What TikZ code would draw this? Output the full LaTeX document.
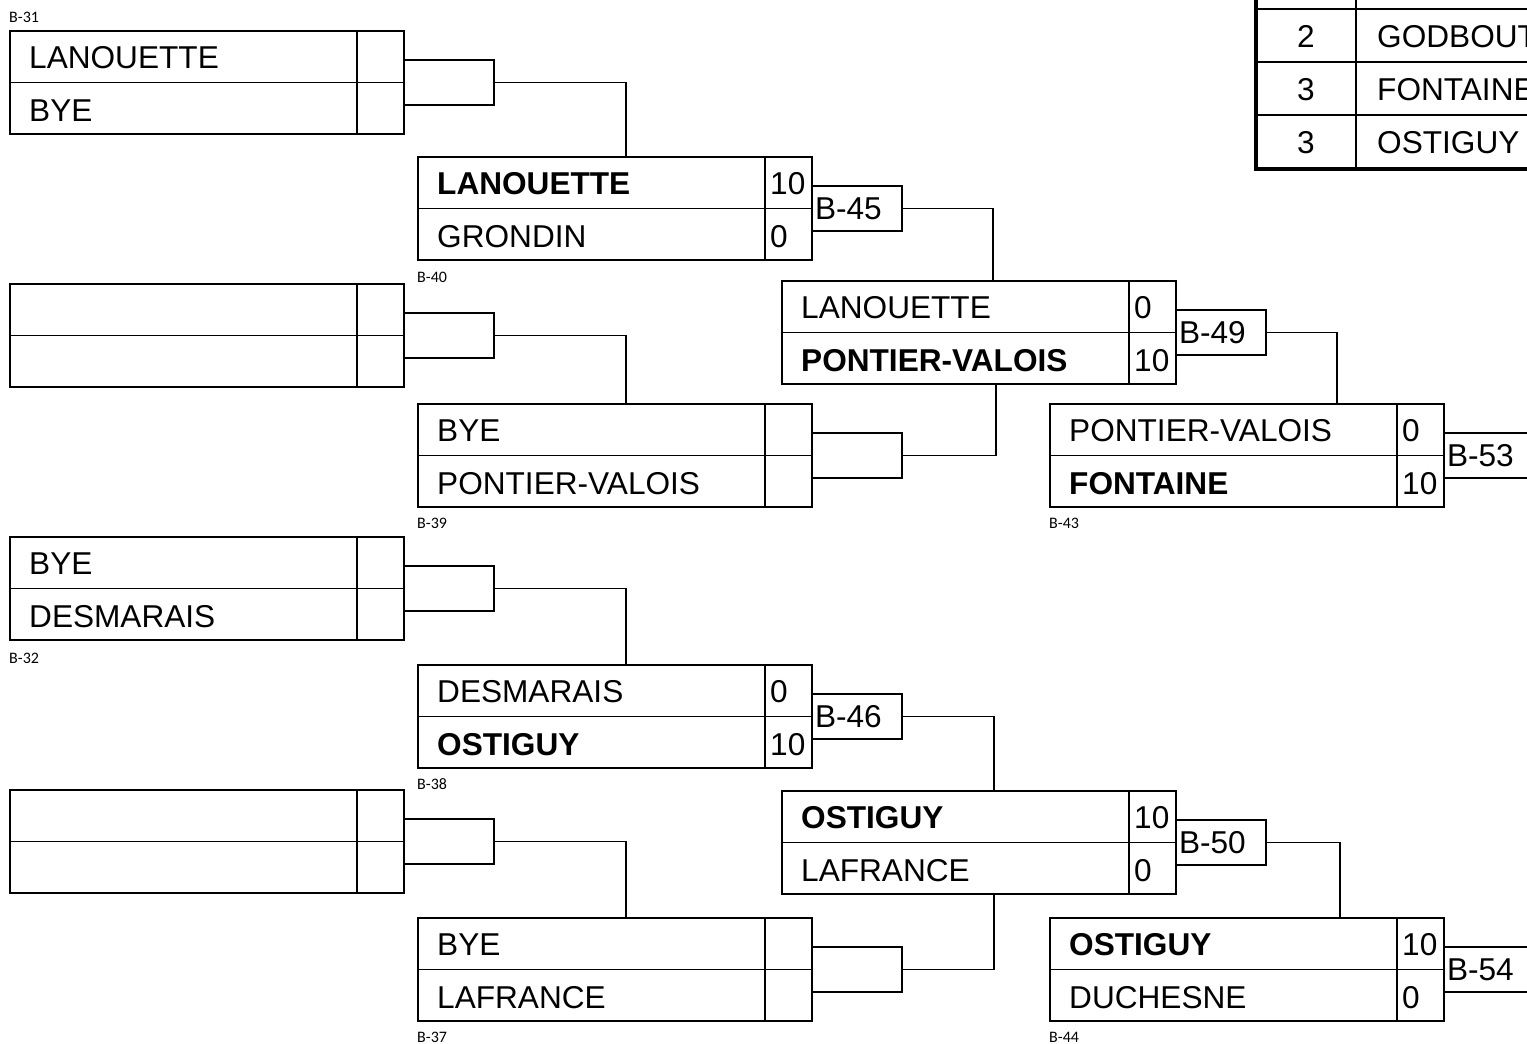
\documentclass[tikz,border=0pt]{standalone}
\usepackage{fontspec}
\setmainfont{Liberation Sans}
\newfontfamily\lblfont{Carlito}
\usetikzlibrary{calc}
\newcommand\matchbox[7]{%
  \node[mbox] (#1) at (#2,#3) {};
  \draw[bl] ([xshift=347pt]#1.north west) -- ([xshift=347pt]#1.south west);
  \draw[bl] (#1.west) -- (#1.east);
  \node[nm] (#1n1) at ([xshift=19pt,yshift=-37pt]#1.north west) {#4};
  \node[nm] (#1s1) at ([xshift=352pt,yshift=-37pt]#1.north west) {#5};
  \node[nm] (#1n2) at ([xshift=19pt,yshift=-90pt]#1.north west) {#6};
  \node[nm] (#1s2) at ([xshift=352pt,yshift=-90pt]#1.north west) {#7};
}
\begin{document}
\begin{tikzpicture}[x=1pt,y=-1pt,
  bl/.style={line width=1.8pt},
  mbox/.style={draw, line width=1.8pt, minimum width=394pt, minimum height=103pt, anchor=north west, inner sep=0pt, outer sep=0pt},
  nm/.style={anchor=base west, inner sep=0pt, font=\fontsize{31.6}{36}\selectfont},
  crect/.style={draw, line width=1.8pt, minimum height=45pt, text width=84pt, inner xsep=3pt, inner ysep=0pt, outer sep=0pt, align=left, anchor=west, font=\fontsize{31.6}{36}\selectfont},
  wire/.style={line width=1.8pt},
  lbl/.style={anchor=west, inner sep=0pt, font=\lblfont\fontsize{16}{18}\selectfont},
  tnum/.style={inner sep=0pt, anchor=base, font=\fontsize{31.6}{36}\selectfont},
  tname/.style={inner sep=0pt, anchor=base west, font=\fontsize{31.6}{36}\selectfont}
]
\clip (0,0) rectangle (1527,1044);
\fill[white] (0,0) rectangle (1527,1044);

% match boxes
\matchbox{L1}{10}{31}{LANOUETTE}{}{BYE}{}
\matchbox{L2}{10}{284}{}{}{}{}
\matchbox{L3}{10}{537}{BYE}{}{DESMARAIS}{}
\matchbox{L4}{10}{790}{}{}{}{}
\matchbox{B40}{418}{157}{\bfseries LANOUETTE}{10}{GRONDIN}{0}
\matchbox{B39}{418}{404}{BYE}{}{PONTIER-VALOIS}{}
\matchbox{B38}{418}{665}{DESMARAIS}{0}{\bfseries OSTIGUY}{10}
\matchbox{B37}{418}{918}{BYE}{}{LAFRANCE}{}
\matchbox{M45}{782}{281}{LANOUETTE}{0}{\bfseries PONTIER-VALOIS}{10}
\matchbox{M46}{782}{791}{\bfseries OSTIGUY}{10}{LAFRANCE}{0}
\matchbox{B43}{1050}{404}{PONTIER-VALOIS}{0}{\bfseries FONTAINE}{10}
\matchbox{B44}{1050}{918}{\bfseries OSTIGUY}{10}{DUCHESNE}{0}

% connectors
\node[crect] (cL1) at (L1.east) {};
\draw[wire] (cL1.east) -| ([xshift=208pt]B40.north west);
\node[crect] (cL2) at (L2.east) {};
\draw[wire] (cL2.east) -| ([xshift=208pt]B39.north west);
\node[crect] (cL3) at (L3.east) {};
\draw[wire] (cL3.east) -| ([xshift=208pt]B38.north west);
\node[crect] (cL4) at (L4.east) {};
\draw[wire] (cL4.east) -| ([xshift=208pt]B37.north west);

\node[crect] (c45) at (B40.east) {B-45};
\draw[wire] (c45.east) -| ([xshift=211pt]M45.north west);
\node[crect] (cB39) at (B39.east) {};
\draw[wire] (cB39.east) -| ([xshift=214pt]M45.south west);
\node[crect] (c46) at (B38.east) {B-46};
\draw[wire] (c46.east) -| ([xshift=212pt]M46.north west);
\node[crect] (cB37) at (B37.east) {};
\draw[wire] (cB37.east) -| ([xshift=212pt]M46.south west);

\node[crect] (c49) at (M45.east) {B-49};
\draw[wire] (c49.east) -| ([xshift=287pt]B43.north west);
\node[crect] (c50) at (M46.east) {B-50};
\draw[wire] (c50.east) -| ([xshift=290pt]B44.north west);

\node[crect] (c53) at (B43.east) {B-53};
\node[crect] (c54) at (B44.east) {B-54};

% small match labels
\node[lbl] (t31) at (9,17) {B-31};
\node[lbl] (t40) at (417,277) {B-40};
\node[lbl] (t39) at (417,523) {B-39};
\node[lbl] (t32) at (9,658) {B-32};
\node[lbl] (t38) at (417,784) {B-38};
\node[lbl] (t37) at (417,1037) {B-37};
\node[lbl] (t43) at (1049,523) {B-43};
\node[lbl] (t44) at (1049,1037) {B-44};

% ranking table (top right, cut by the edge as in the reference)
\draw[line width=1.8pt] (1256,9) -- (1540,9) (1256,62) -- (1540,62) (1256,115) -- (1540,115) (1356,-30) -- (1356,169);
\draw[line width=4pt] (1256,-30) -- (1256,169) -- (1540,169);
\node[tnum] (r1a) at (1306,47) {2};
\node[tname] (r1b) at (1377,47) {GODBOUT};
\node[tnum] (r2a) at (1306,100) {3};
\node[tname] (r2b) at (1377,100) {FONTAINE};
\node[tnum] (r3a) at (1306,153) {3};
\node[tname] (r3b) at (1377,153) {OSTIGUY};
\end{tikzpicture}
\end{document}
